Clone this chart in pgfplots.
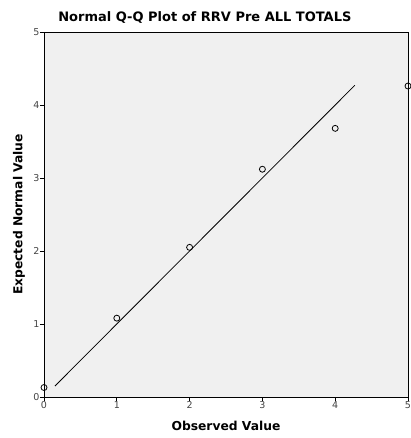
\documentclass[border=0pt]{standalone}
\usepackage{pgfplots}
\pgfplotsset{compat=1.18}
\usepackage{fontspec}
\setmainfont{DejaVu Sans}
\definecolor{bgc}{HTML}{F0F0F0}
\definecolor{tickc}{HTML}{444444}
\begin{document}
\begin{tikzpicture}[x=1pt,y=1pt]
\begin{axis}[
  scale only axis,
  width=364pt, height=365pt,
  xmin=0, xmax=5, ymin=0, ymax=5,
  xtick={0,1,2,3,4,5}, ytick={0,1,2,3,4,5},
  xtick pos=bottom, ytick pos=left,
  tick align=outside,
  major tick length=4pt,
  tick style={black, line width=0.7pt},
  axis line style={line width=0.7pt},
  axis background/.style={fill=bgc},
  /pgf/number format/assume math mode=true,
  ticklabel style={font=\fontsize{9.5}{10}\selectfont, text=tickc},
  xticklabel style={yshift=3pt},
  yticklabel style={xshift=3pt},
  title={\bfseries Normal Q-Q Plot of RRV Pre ALL TOTALS},
  title style={font=\fontsize{13}{15}\selectfont, at={(0.442,1)}, anchor=base, yshift=4pt},
  xlabel={\bfseries Observed Value},
  ylabel={\bfseries Expected Normal Value},
  label style={font=\fontsize{12.3}{14}\selectfont},
  xlabel style={at={(0.5,0)}, anchor=base, yshift=-34pt},
  ylabel style={at={(0,0.5)}, anchor=center, yshift=25pt},
  clip=false,
]
\addplot[black, line width=0.8pt] coordinates {(0.15,0.15) (4.27,4.27)};
\addplot[only marks, mark=o, mark size=3pt, black, line width=0.8pt] coordinates {
(0,0.13) (1,1.08) (2,2.05) (3,3.12) (4,3.68) (5,4.26)};
\path (rel axis cs:0,0) coordinate (A) (rel axis cs:1,1) coordinate (B);
\end{axis}
\pgfresetboundingbox
\path[use as bounding box] ([shift={(-44pt,-41pt)}]A) rectangle ([shift={(3pt,32pt)}]B);
\end{tikzpicture}
\end{document}
